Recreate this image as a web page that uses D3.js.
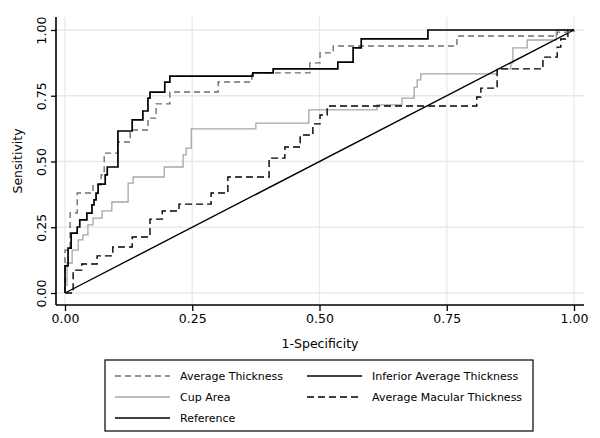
<!DOCTYPE html>
<html>
<head>
<meta charset="utf-8">
<script src="https://cdn.jsdelivr.net/npm/d3@7"></script>
<style>
  html, body { margin: 0; padding: 0; background: #fff; }
  svg { display: block; }
  text { font-family: "DejaVu Sans", sans-serif; fill: #000; }
</style>
</head>
<body>
<svg id="chart" width="600" height="438"></svg>
<script>
// ---- data (ROC points: 1-specificity, sensitivity) ----
const tickValues = [0, 0.25, 0.5, 0.75, 1];
const tickLabels = ["0.00", "0.25", "0.50", "0.75", "1.00"];

const avgThickFpr = [0, 0, 0.010, 0.024, 0.055, 0.071, 0.077, 0.104, 0.128, 0.163, 0.179, 0.206, 0.301, 0.367, 0.481, 0.501, 0.527, 0.770, 0.967, 1];
const avgThickTpr = [0, 0.163, 0.304, 0.380, 0.411, 0.449, 0.532, 0.574, 0.620, 0.665, 0.719, 0.764, 0.802, 0.837, 0.875, 0.913, 0.939, 0.977, 0.992, 1];

const infAvgFpr = [0, 0, 0.006, 0.012, 0.024, 0.029, 0.043, 0.053, 0.057, 0.061, 0.065, 0.079, 0.083, 0.104, 0.132, 0.153, 0.163, 0.167, 0.196, 0.206, 0.369, 0.409, 0.536, 0.566, 0.582, 0.713, 1];
const infAvgTpr = [0, 0.103, 0.171, 0.228, 0.251, 0.278, 0.304, 0.335, 0.354, 0.380, 0.414, 0.449, 0.479, 0.616, 0.658, 0.692, 0.741, 0.764, 0.802, 0.825, 0.837, 0.852, 0.878, 0.932, 0.966, 1, 1];

const cupAreaFpr = [0, 0, 0.004, 0.014, 0.026, 0.035, 0.045, 0.055, 0.073, 0.092, 0.124, 0.134, 0.195, 0.232, 0.238, 0.248, 0.375, 0.479, 0.613, 0.662, 0.686, 0.692, 0.699, 0.849, 0.876, 0.880, 0.908, 0.965, 1];
const cupAreaTpr = [0, 0.030, 0.114, 0.163, 0.202, 0.221, 0.259, 0.285, 0.312, 0.346, 0.418, 0.441, 0.479, 0.525, 0.551, 0.624, 0.646, 0.696, 0.715, 0.741, 0.783, 0.810, 0.833, 0.852, 0.875, 0.932, 0.962, 1, 1];

const macThickFpr = [0, 0.016, 0.033, 0.063, 0.094, 0.132, 0.167, 0.191, 0.224, 0.287, 0.320, 0.401, 0.432, 0.462, 0.487, 0.501, 0.515, 0.809, 0.817, 0.849, 0.939, 0.967, 0.974, 0.988, 1];
const macThickTpr = [0, 0.087, 0.110, 0.141, 0.175, 0.213, 0.281, 0.312, 0.338, 0.380, 0.441, 0.513, 0.555, 0.601, 0.643, 0.677, 0.711, 0.745, 0.779, 0.852, 0.897, 0.935, 0.966, 1, 1];

const refFpr = [0, 1];
const refTpr = [0, 1];

const seriesNames = ["Average Thickness", "Inferior Average Thickness", "Cup Area", "Average Macular Thickness", "Reference"];

// ---- styles ----
const styles = {
  "Average Thickness":        { color: "#6e6e6e", width: 1.4, dash: "6,4", step: true },
  "Inferior Average Thickness": { color: "#000000", width: 1.7, dash: null, step: true },
  "Cup Area":                 { color: "#a6a6a6", width: 1.3, dash: null, step: true },
  "Average Macular Thickness":{ color: "#000000", width: 1.4, dash: "7,4", step: true },
  "Reference":                { color: "#000000", width: 1.4, dash: null, step: false }
};

const series = [
  { name: "Cup Area", fpr: cupAreaFpr, tpr: cupAreaTpr },
  { name: "Reference", fpr: refFpr, tpr: refTpr },
  { name: "Average Macular Thickness", fpr: macThickFpr, tpr: macThickTpr },
  { name: "Average Thickness", fpr: avgThickFpr, tpr: avgThickTpr },
  { name: "Inferior Average Thickness", fpr: infAvgFpr, tpr: infAvgTpr }
];

const svg = d3.select("#chart");
const x = d3.scaleLinear().domain([0, 1]).range([65, 574]);
const y = d3.scaleLinear().domain([0, 1]).range([293, 30]);

const plotLeft = 56, plotRight = 584, plotTop = 17, plotBottom = 305;

// gridlines
const grid = svg.append("g");
grid.selectAll("line.gy").data(tickValues).enter().append("line")
  .attr("x1", plotLeft).attr("x2", plotRight)
  .attr("y1", d => y(d)).attr("y2", d => y(d))
  .attr("stroke", "#e9e9e9").attr("stroke-width", 1.3);
grid.selectAll("line.gx").data(tickValues).enter().append("line")
  .attr("y1", plotTop).attr("y2", plotBottom)
  .attr("x1", d => x(d)).attr("x2", d => x(d))
  .attr("stroke", "#e9e9e9").attr("stroke-width", 1.3);

// curves
const lineStep = d3.line().x(d => x(d[0])).y(d => y(d[1])).curve(d3.curveStepAfter);
const lineLin = d3.line().x(d => x(d[0])).y(d => y(d[1]));
series.forEach(s => {
  const st = styles[s.name];
  const pts = s.fpr.map((f, i) => [f, s.tpr[i]]);
  svg.append("path")
    .attr("d", (st.step ? lineStep : lineLin)(pts))
    .attr("fill", "none")
    .attr("stroke", st.color)
    .attr("stroke-width", st.width)
    .attr("stroke-dasharray", st.dash)
    .attr("stroke-linejoin", "miter");
});

// axes
const xAxis = d3.axisBottom(x).tickValues(tickValues).tickFormat((d, i) => tickLabels[i]).tickSize(6).tickSizeOuter(0);
const gx = svg.append("g").attr("transform", `translate(0,${plotBottom})`).call(xAxis);
gx.select(".domain").attr("d", `M${plotLeft},0H${plotRight}`).attr("stroke", "#000").attr("stroke-width", 1.6);
gx.selectAll(".tick line").attr("stroke", "#000").attr("stroke-width", 1.3);
gx.selectAll(".tick text").attr("font-family", "DejaVu Sans").attr("font-size", 12.5).attr("dy", "0.95em").attr("y", 6);

const yAxis = d3.axisLeft(y).tickValues(tickValues).tickFormat((d, i) => tickLabels[i]).tickSize(5).tickSizeOuter(0);
const gy = svg.append("g").attr("transform", `translate(${plotLeft},0)`).call(yAxis);
gy.select(".domain").attr("d", `M0,${plotTop}V${plotBottom}`).attr("stroke", "#000").attr("stroke-width", 1.6);
gy.selectAll(".tick line").attr("stroke", "#000").attr("stroke-width", 1.3);
gy.selectAll(".tick text")
  .attr("font-family", "DejaVu Sans").attr("font-size", 12.5)
  .attr("x", null).attr("dy", null)
  .attr("text-anchor", "middle")
  .attr("transform", "translate(-10,0) rotate(-90)");

// axis titles
svg.append("text").attr("x", 320).attr("y", 348).attr("text-anchor", "middle")
  .attr("font-size", 12.5).text("1-Specificity");
svg.append("text").attr("transform", "translate(22,161) rotate(-90)").attr("text-anchor", "middle")
  .attr("font-size", 12.5).text("Sensitivity");

// legend
const legend = svg.append("g");
legend.append("rect").attr("x", 105).attr("y", 360).attr("width", 428).attr("height", 71)
  .attr("fill", "#fff").attr("stroke", "#000").attr("stroke-width", 1.2);
const legendItems = [
  { name: "Average Thickness", col: 0, row: 0 },
  { name: "Inferior Average Thickness", col: 1, row: 0 },
  { name: "Cup Area", col: 0, row: 1 },
  { name: "Average Macular Thickness", col: 1, row: 1 },
  { name: "Reference", col: 0, row: 2 }
];
const colX = [115, 307];
const rowY = [376, 397, 418];
legendItems.forEach(it => {
  const st = styles[it.name];
  const lx = colX[it.col], ly = rowY[it.row];
  legend.append("line").attr("x1", lx).attr("x2", lx + 55).attr("y1", ly).attr("y2", ly)
    .attr("stroke", st.color).attr("stroke-width", st.width).attr("stroke-dasharray", st.dash);
  legend.append("text").attr("x", lx + 65).attr("y", ly + 4).attr("font-size", 11).text(it.name);
});
</script>
</body>
</html>
